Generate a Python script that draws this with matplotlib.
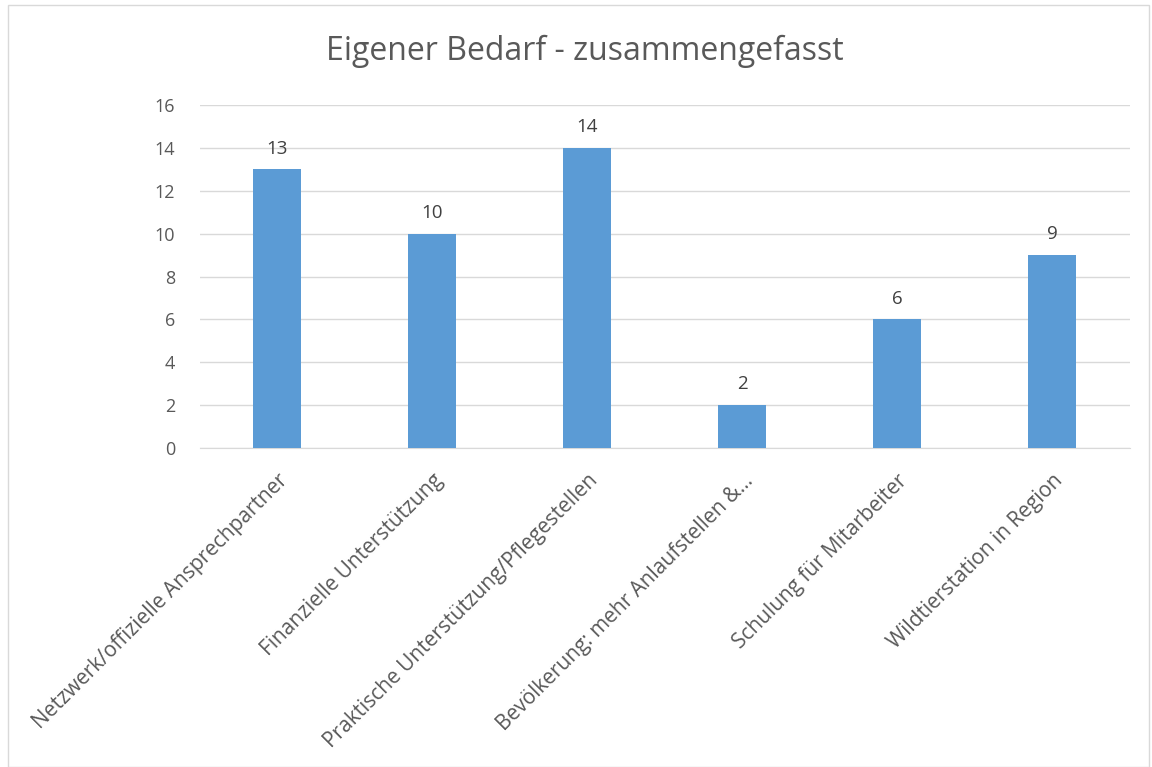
import matplotlib.pyplot as plt
from matplotlib.patches import Rectangle

plt.rcParams['font.family'] = ['Open Sans', 'DejaVu Sans']

# Daten
kategorien = [
    'Netzwerk/offizielle Ansprechpartner',
    'Finanzielle Unterstützung',
    'Praktische Unterstützung/Pflegestellen',
    'Bevölkerung: mehr Anlaufstellen &…',
    'Schulung für Mitarbeiter',
    'Wildtierstation in Region',
]
werte = [13, 10, 14, 2, 6, 9]
y_ticks = [0, 2, 4, 6, 8, 10, 12, 14, 16]

text_farbe = '#595959'
balken_farbe = '#5B9BD5'

fig = plt.figure(figsize=(11.52, 7.67), dpi=100)
ax = fig.add_axes([0.1736, 0.416, 0.807, 0.447])

x = range(len(werte))
bars = ax.bar(x, werte, width=0.31, color=balken_farbe, zorder=3)
for xi, w in zip(x, werte):
    ax.text(xi, w + 0.55, str(w), ha='center', va='bottom', fontsize=13.5, color='#404040')

ax.set_xlim(-0.5, len(werte) - 0.5)
ax.set_ylim(0, 16)
ax.set_yticks(y_ticks)
ax.set_xticks(list(x))
ax.set_xticklabels(kategorien, rotation=45, ha='right', rotation_mode='anchor',
                   fontsize=15, color=text_farbe)
ax.tick_params(axis='y', length=0, labelsize=13, labelcolor=text_farbe, pad=18)
ax.tick_params(axis='x', length=0, pad=16)
ax.grid(axis='y', color='#D9D9D9', linewidth=1, zorder=0)
for s in ['top', 'right', 'left']:
    ax.spines[s].set_visible(False)
ax.spines['bottom'].set_color('#D9D9D9')

fig.text(0.508, 0.933, 'Eigener Bedarf - zusammengefasst', ha='center', va='center',
         fontsize=23, color=text_farbe)

# Rahmen
fig.patches.append(Rectangle((0.007, 0.0), 0.99, 0.993, transform=fig.transFigure,
                             fill=False, edgecolor='#D9D9D9', linewidth=1))

fig.savefig('out.png', dpi=100)
